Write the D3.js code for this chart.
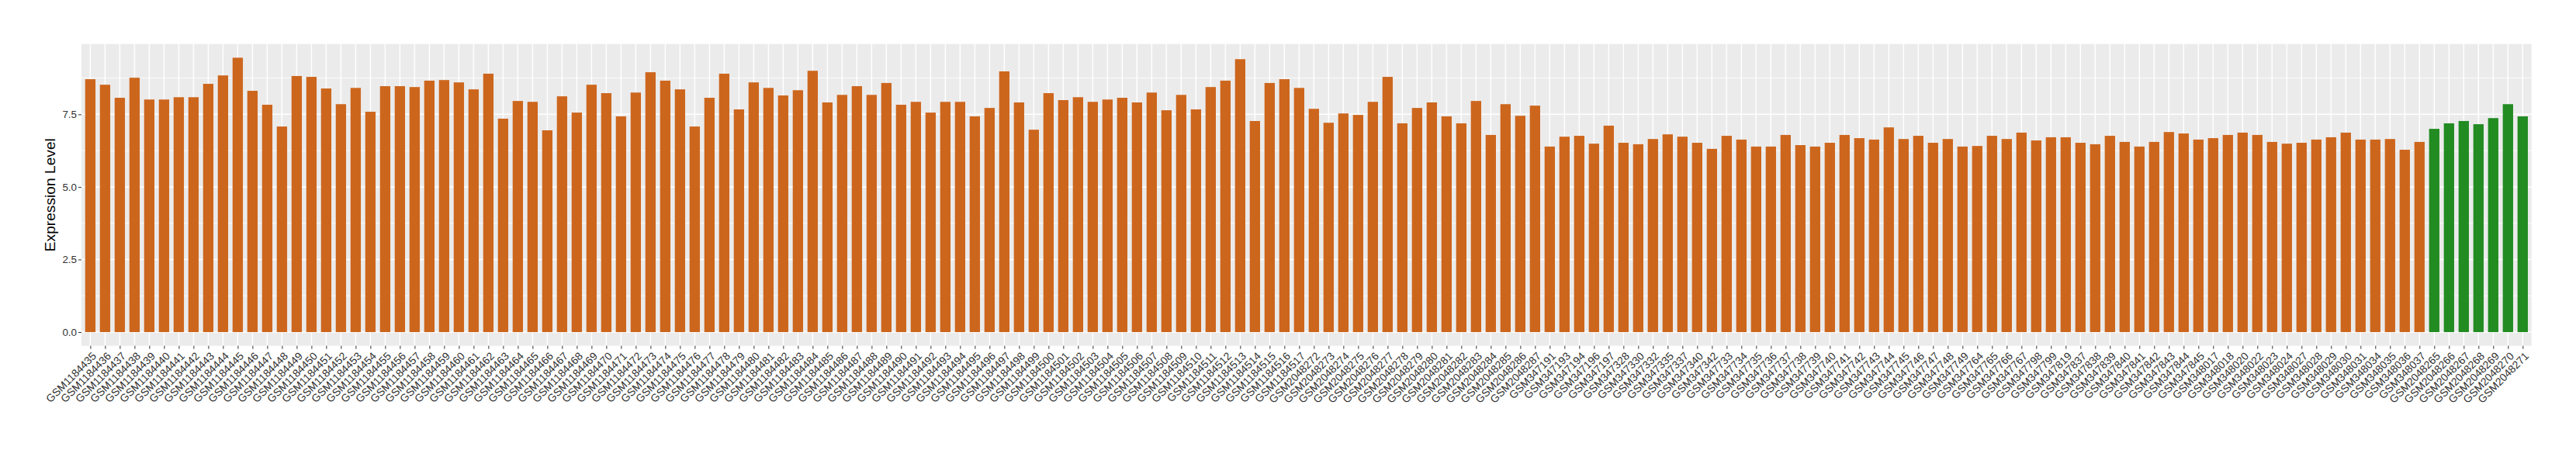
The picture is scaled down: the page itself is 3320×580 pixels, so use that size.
<!DOCTYPE html>
<html>
<head>
<meta charset="utf-8">
<script src="https://cdn.jsdelivr.net/npm/d3@7"></script>
<style>
  html, body { margin: 0; padding: 0; background: #ffffff; }
  svg { display: block; font-family: "Liberation Sans", Arial, Helvetica, sans-serif; }
</style>
</head>
<body>
<svg id="chart" width="3320" height="580"></svg>
<script>
// ---------- DATA ----------
const samples = [
  "GSM1184435","GSM1184436","GSM1184437","GSM1184438","GSM1184439","GSM1184440","GSM1184441","GSM1184442","GSM1184443","GSM1184444",
  "GSM1184445","GSM1184446","GSM1184447","GSM1184448","GSM1184449","GSM1184450","GSM1184451","GSM1184452","GSM1184453","GSM1184454",
  "GSM1184455","GSM1184456","GSM1184457","GSM1184458","GSM1184459","GSM1184460","GSM1184461","GSM1184462","GSM1184463","GSM1184464",
  "GSM1184465","GSM1184466","GSM1184467","GSM1184468","GSM1184469","GSM1184470","GSM1184471","GSM1184472","GSM1184473","GSM1184474",
  "GSM1184475","GSM1184476","GSM1184477","GSM1184478","GSM1184479","GSM1184480","GSM1184481","GSM1184482","GSM1184483","GSM1184484",
  "GSM1184485","GSM1184486","GSM1184487","GSM1184488","GSM1184489","GSM1184490","GSM1184491","GSM1184492","GSM1184493","GSM1184494",
  "GSM1184495","GSM1184496","GSM1184497","GSM1184498","GSM1184499","GSM1184500","GSM1184501","GSM1184502","GSM1184503","GSM1184504",
  "GSM1184505","GSM1184506","GSM1184507","GSM1184508","GSM1184509","GSM1184510","GSM1184511","GSM1184512","GSM1184513","GSM1184514",
  "GSM1184515","GSM1184516","GSM1184517",
  "GSM2048272","GSM2048273","GSM2048274","GSM2048275","GSM2048276","GSM2048277","GSM2048278","GSM2048279","GSM2048280","GSM2048281",
  "GSM2048282","GSM2048283","GSM2048284","GSM2048285","GSM2048286","GSM2048287",
  "GSM347191","GSM347193","GSM347194","GSM347196","GSM347197","GSM347328","GSM347330","GSM347332","GSM347335","GSM347337",
  "GSM347340","GSM347342","GSM347733","GSM347734","GSM347735","GSM347736","GSM347737","GSM347738","GSM347739","GSM347740",
  "GSM347741","GSM347742","GSM347743","GSM347744","GSM347745","GSM347746","GSM347747","GSM347748","GSM347749","GSM347764",
  "GSM347765","GSM347766","GSM347767","GSM347798","GSM347799","GSM347819","GSM347837","GSM347838","GSM347839","GSM347840",
  "GSM347841","GSM347842","GSM347843","GSM347844","GSM347845","GSM348017","GSM348018","GSM348020","GSM348022","GSM348023",
  "GSM348024","GSM348027","GSM348028","GSM348029","GSM348030","GSM348031","GSM348034","GSM348035","GSM348036","GSM348037",
  "GSM2048265","GSM2048266","GSM2048267","GSM2048268","GSM2048269","GSM2048270","GSM2048271"
];

const expression = [
  8.71, 8.52, 8.07, 8.76, 8.01, 8.01, 8.09, 8.09, 8.55, 8.84,
  9.45, 8.31, 7.83, 7.08, 8.82, 8.79, 8.39, 7.85, 8.41, 7.59,
  8.47, 8.47, 8.44, 8.66, 8.68, 8.60, 8.36, 8.90, 7.35, 7.96,
  7.93, 6.95, 8.12, 7.56, 8.52, 8.23, 7.43, 8.25, 8.95, 8.66,
  8.36, 7.08, 8.07, 8.90, 7.67, 8.60, 8.41, 8.15, 8.33, 9.00,
  7.91, 8.17, 8.47, 8.17, 8.58, 7.83, 7.93, 7.56, 7.93, 7.93,
  7.43, 7.72, 8.98, 7.91, 6.97, 8.23, 7.99, 8.09, 7.93, 8.01,
  8.07, 7.91, 8.25, 7.64, 8.17, 7.67, 8.44, 8.66, 9.40, 7.27,
  8.58, 8.71, 8.41,
  7.69, 7.21, 7.53, 7.48, 7.93, 8.79, 7.19, 7.72, 7.91, 7.43,
  7.19, 7.96, 6.79, 7.85, 7.45, 7.80,
  6.39, 6.73, 6.76, 6.49, 7.11, 6.52, 6.47, 6.65, 6.81, 6.73,
  6.52, 6.31, 6.76, 6.63, 6.39, 6.39, 6.79, 6.44, 6.39, 6.52,
  6.79, 6.68, 6.63, 7.05, 6.65, 6.76, 6.52, 6.65, 6.39, 6.41,
  6.76, 6.65, 6.87, 6.60, 6.71, 6.71, 6.52, 6.47, 6.76, 6.55,
  6.39, 6.55, 6.89, 6.84, 6.63, 6.68, 6.79, 6.87, 6.79, 6.55,
  6.49, 6.52, 6.63, 6.71, 6.87, 6.63, 6.63, 6.65, 6.28, 6.55,
  7.00, 7.19, 7.27, 7.16, 7.37, 7.85, 7.43
];

// samples drawn in green (second group); all others orange
const greenSamples = ["GSM2048265","GSM2048266","GSM2048267","GSM2048268","GSM2048269","GSM2048270","GSM2048271"];
const groupColors = ["#CD661D", "#228B22"];

const yTicks = [0, 2.5, 5.0, 7.5];
const yMinorTicks = [1.25, 3.75, 6.25, 8.75];
const yTitle = "Expression Level";

// ---------- LAYOUT ----------
const W = 3320, H = 580;
const panel = { left: 105, right: 3262.7, top: 56.7, bottom: 445.7 };

const data = samples.map((s, i) => ({ sample: s, value: expression[i],
  color: greenSamples.includes(s) ? groupColors[1] : groupColors[0] }));

const svg = d3.select("#chart");
svg.append("rect").attr("width", W).attr("height", H).attr("fill", "#ffffff");

const maxV = d3.max(expression);
const x = d3.scalePoint().domain(samples).range([panel.left, panel.right]).padding(0.6);
const step = x.step();
const barW = step * 0.7;
const y = d3.scaleLinear().domain([-0.05 * maxV, maxV * 1.05]).range([panel.bottom, panel.top]);

// panel background
svg.append("rect")
  .attr("x", panel.left).attr("y", panel.top)
  .attr("width", panel.right - panel.left).attr("height", panel.bottom - panel.top)
  .attr("fill", "#EBEBEB");

// minor horizontal gridlines
svg.append("g").selectAll("line").data(yMinorTicks).join("line")
  .attr("x1", panel.left).attr("x2", panel.right)
  .attr("y1", d => y(d)).attr("y2", d => y(d))
  .attr("stroke", "#ffffff").attr("stroke-width", 0.8);

// major horizontal gridlines
svg.append("g").selectAll("line").data(yTicks).join("line")
  .attr("x1", panel.left).attr("x2", panel.right)
  .attr("y1", d => y(d)).attr("y2", d => y(d))
  .attr("stroke", "#ffffff").attr("stroke-width", 1.5);

// vertical gridlines
svg.append("g").selectAll("line").data(samples).join("line")
  .attr("x1", d => x(d)).attr("x2", d => x(d))
  .attr("y1", panel.top).attr("y2", panel.bottom)
  .attr("stroke", "#ffffff").attr("stroke-width", 1.5);

// bars
svg.append("g").selectAll("rect").data(data).join("rect")
  .attr("x", d => x(d.sample) - barW / 2)
  .attr("width", barW)
  .attr("y", d => y(d.value))
  .attr("height", d => y(0) - y(d.value))
  .attr("fill", d => d.color);

// y axis
const yAxis = d3.axisLeft(y).tickValues(yTicks).tickFormat(d3.format(".1f")).tickSize(4).tickPadding(2);
const gy = svg.append("g").attr("transform", `translate(${panel.left},0)`).call(yAxis);
gy.select(".domain").remove();
gy.selectAll(".tick line").attr("stroke", "#333333").attr("stroke-width", 1);
gy.selectAll(".tick text").attr("fill", "#333333").attr("font-size", "13.4px")
  .attr("font-family", "Liberation Sans, Arial, sans-serif");

// x axis
const xAxis = d3.axisBottom(x).tickSize(4).tickPadding(0);
const gx = svg.append("g").attr("transform", `translate(0,${panel.bottom})`).call(xAxis);
gx.select(".domain").remove();
gx.selectAll(".tick line").attr("stroke", "#333333").attr("stroke-width", 1);
gx.selectAll(".tick text")
  .attr("fill", "#333333").attr("font-size", "13.9px")
  .attr("font-family", "Liberation Sans, Arial, sans-serif")
  .attr("text-anchor", "end")
  .attr("x", 0).attr("y", 0).attr("dy", "0.72em")
  .attr("transform", "translate(1,7) rotate(-45)");

// y title
svg.append("text")
  .attr("transform", `translate(70.7,${(panel.top + panel.bottom) / 2}) rotate(-90)`)
  .attr("text-anchor", "middle")
  .attr("font-size", "19.2px")
  .attr("fill", "#000000")
  .text(yTitle);
</script>
</body>
</html>
